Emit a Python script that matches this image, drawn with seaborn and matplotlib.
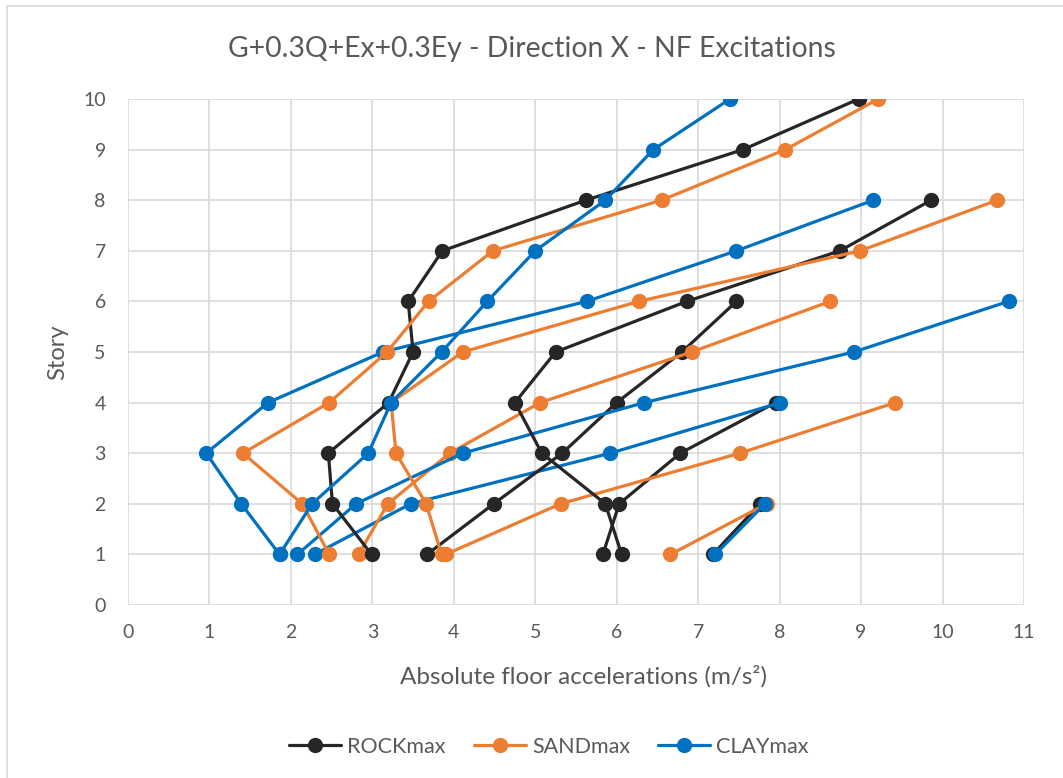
import matplotlib
matplotlib.use("Agg")
import matplotlib.pyplot as plt
from matplotlib.lines import Line2D
from matplotlib.patches import Rectangle
import seaborn as sns
import pandas as pd

# ---------------- data ----------------
soils = ["ROCKmax", "SANDmax", "CLAYmax"]
buildings = [2, 4, 6, 8, 10]  # number of stories of each building model

rock = {
    10: [2.99, 2.51, 2.46, 3.20, 3.50, 3.44, 3.86, 5.62, 7.55, 8.97],
    8: [6.06, 5.86, 5.08, 4.75, 5.25, 6.86, 8.74, 9.86],
    6: [3.67, 4.49, 5.33, 6.00, 6.80, 7.47],
    4: [5.83, 6.03, 6.78, 7.95],
    2: [7.18, 7.76],
}
sand = {
    10: [2.47, 2.14, 1.41, 2.47, 3.18, 3.69, 4.48, 6.55, 8.07, 9.21],
    8: [3.85, 3.66, 3.29, 3.23, 4.11, 6.27, 8.99, 10.67],
    6: [2.83, 3.19, 3.95, 5.06, 6.92, 8.62],
    4: [3.90, 5.31, 7.51, 9.42],
    2: [6.66, 7.84],
}
clay = {
    10: [1.86, 2.26, 2.95, 3.23, 3.85, 4.41, 5.00, 5.86, 6.45, 7.39],
    8: [1.86, 1.39, 0.96, 1.72, 3.13, 5.63, 7.47, 9.15],
    6: [2.08, 2.80, 4.11, 6.34, 8.91, 10.81],
    4: [2.29, 3.47, 5.92, 8.01],
    2: [7.21, 7.82],
}

title = "G+0.3Q+Ex+0.3Ey - Direction X - NF Excitations"
xlabel = "Absolute floor accelerations (m/s²)"
ylabel = "Story"
xticks = list(range(0, 12))
yticks = list(range(0, 11))

colors = {"ROCKmax": "#262626", "SANDmax": "#ED7D31", "CLAYmax": "#0070C0"}

rows = []
for soil, dct in zip(soils, [rock, sand, clay]):
    for b, vals in dct.items():
        for i, v in enumerate(vals):
            rows.append({"soil": soil, "building": b, "story": i + 1, "acc": v})
df = pd.DataFrame(rows)

# ---------------- style ----------------
sns.set_theme(style="white")
plt.rcParams["font.family"] = ["Lato", "DejaVu Sans"]
txt = "#595959"
grid = "#D9D9D9"

W, H = 1063, 778
fig = plt.figure(figsize=(W / 100, H / 100), dpi=100)
ax = fig.add_axes([128 / W, 1 - 605 / H, (1024 - 128) / W, (605 - 99) / H])

for b in buildings:
    sub = df[df["building"] == b]
    sns.lineplot(
        data=sub, x="acc", y="story", hue="soil", hue_order=soils,
        palette=colors, estimator=None, sort=False, marker="o",
        markersize=11, markeredgewidth=0, linewidth=2.3, legend=False, ax=ax,
    )

ax.set_xlim(0, 11)
ax.set_ylim(0, 10)
ax.set_xticks(xticks)
ax.set_yticks(yticks)
ax.grid(True, color=grid, linewidth=1.2)
ax.set_axisbelow(True)
for s in ax.spines.values():
    s.set_visible(False)
ax.tick_params(axis="both", length=0, labelsize=14, labelcolor=txt)
ax.tick_params(axis="x", pad=14)
ax.tick_params(axis="y", pad=16)
ax.set_xlabel("")
ax.set_ylabel("")

fig.text(0.5, 1 - 57.5 / H, title, ha="center", va="baseline", fontsize=20.4, color=txt)
fig.text(584 / W, 1 - 684 / H, xlabel, ha="center", va="baseline", fontsize=17.5, color=txt)
fig.text(58 / W, 1 - 352 / H, ylabel, ha="center", va="center", rotation=90, fontsize=17, color=txt)

handles = [Line2D([0], [0], color=colors[s], marker="o", markersize=11,
                  markeredgewidth=0, linewidth=2.3) for s in soils]
fig.legend(handles, soils, loc="center", bbox_to_anchor=(549 / W, 1 - 747 / H),
           ncol=3, frameon=False, fontsize=15.5, labelcolor=txt,
           handlelength=2.4, handletextpad=0.3, columnspacing=1.3)

fig.patches.append(Rectangle((7 / W, -0.1), 1.2, 1 - 6 / H + 0.1, transform=fig.transFigure,
                             fill=False, edgecolor=grid, linewidth=1.2, clip_on=False))

fig.savefig("out.png", dpi=100)
